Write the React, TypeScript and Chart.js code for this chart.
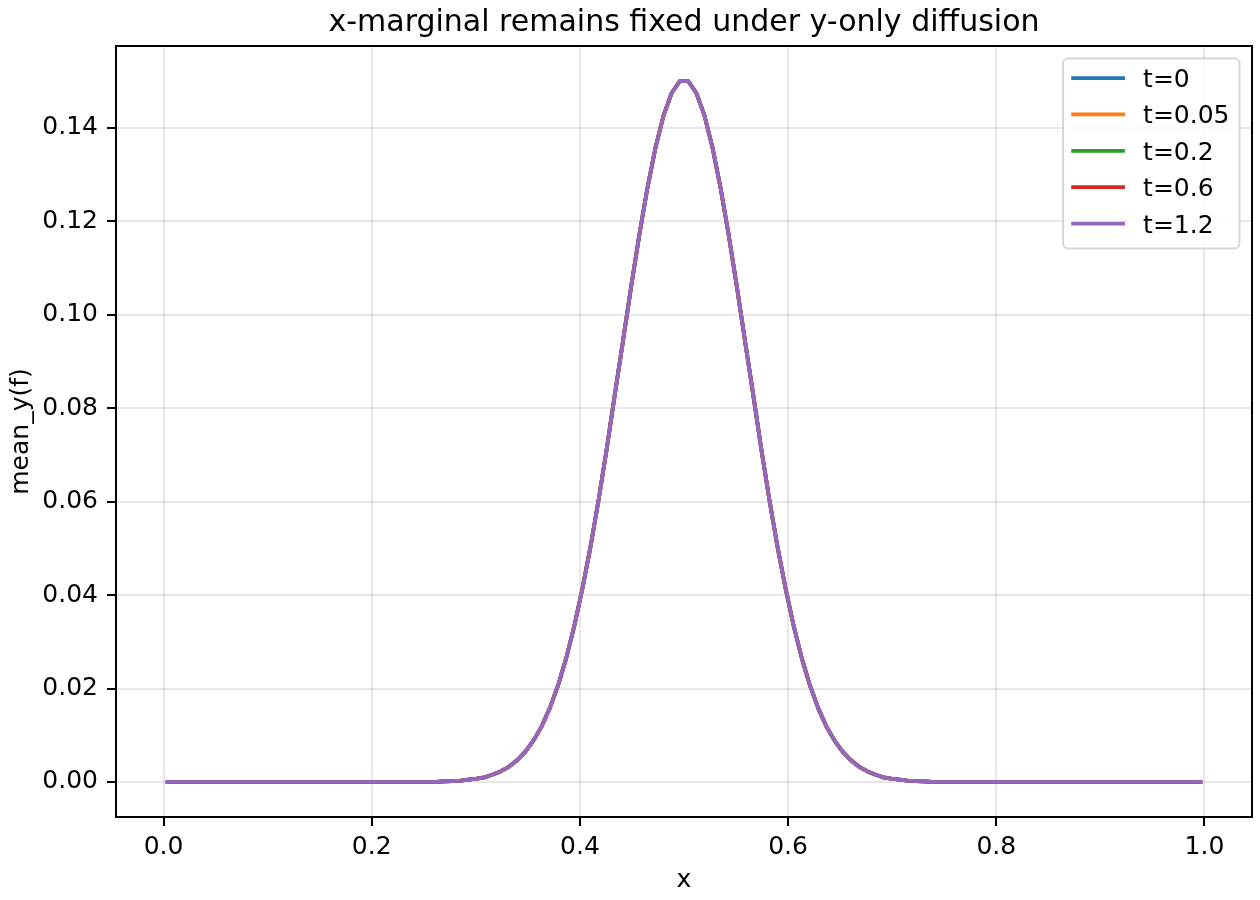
import React, { useEffect, useRef } from 'react';
import { Chart, registerables } from 'chart.js';

Chart.register(...registerables);

const chartTitle = 'x-marginal remains fixed under y-only diffusion';
const xAxisLabel = 'x';
const yAxisLabel = 'mean_y(f)';

const timeLabels = ['t=0', 't=0.05', 't=0.2', 't=0.6', 't=1.2'];
const lineColors = ['#1f77b4', '#ff7f0e', '#2ca02c', '#d62728', '#9467bd'];

// cell-centre x positions (flat tails trimmed to their end points)
const xGrid = [
  0.00391, 0.26172,
  0.26953, 0.27734, 0.28516, 0.29297, 0.30078, 0.30859, 0.31641, 0.32422, 0.33203, 0.33984,
  0.34766, 0.35547, 0.36328, 0.37109, 0.37891, 0.38672, 0.39453, 0.40234, 0.41016, 0.41797,
  0.42578, 0.43359, 0.44141, 0.44922, 0.45703, 0.46484, 0.47266, 0.48047, 0.48828, 0.49609,
  0.50391, 0.51172, 0.51953, 0.52734, 0.53516, 0.54297, 0.55078, 0.55859, 0.56641, 0.57422,
  0.58203, 0.58984, 0.59766, 0.60547, 0.61328, 0.62109, 0.62891, 0.63672, 0.64453, 0.65234,
  0.66016, 0.66797, 0.67578, 0.68359, 0.69141, 0.69922, 0.70703, 0.71484, 0.72266, 0.73047,
  0.73828, 0.99609,
];

// mean over y of f -- the same for every t (curves lie on top of each other)
const meanProfile = [
  0, 0,
  0.0001, 0.0002, 0.0003, 0.0005, 0.0007, 0.0010, 0.0016, 0.0023, 0.0033, 0.0047,
  0.0065, 0.0089, 0.0119, 0.0158, 0.0206, 0.0264, 0.0333, 0.0413, 0.0503, 0.0604,
  0.0713, 0.0830, 0.0944, 0.1060, 0.1170, 0.1271, 0.1358, 0.1427, 0.1475, 0.1500,
  0.1500, 0.1475, 0.1427, 0.1358, 0.1271, 0.1170, 0.1060, 0.0944, 0.0830, 0.0713,
  0.0604, 0.0503, 0.0413, 0.0333, 0.0264, 0.0206, 0.0158, 0.0119, 0.0089, 0.0065,
  0.0047, 0.0033, 0.0023, 0.0016, 0.0010, 0.0007, 0.0005, 0.0003, 0.0002, 0.0001,
  0, 0,
];

const xTicks = [0, 0.2, 0.4, 0.6, 0.8, 1.0];
const yTicks = [0, 0.02, 0.04, 0.06, 0.08, 0.1, 0.12, 0.14];

const FONT = '"DejaVu Sans", sans-serif';
const FS = 25;

// matplotlib-like 5% margins around the data
const xLo = Math.min(...xGrid), xHi = Math.max(...xGrid);
const yLo = Math.min(...meanProfile), yHi = Math.max(...meanProfile);
const xPad = (xHi - xLo) * 0.05, yPad = (yHi - yLo) * 0.05;

const framePlugin = {
  id: 'frame',
  afterDraw(chart: any) {
    const { ctx, chartArea: a } = chart;
    ctx.save();
    // spines
    ctx.strokeStyle = '#000';
    ctx.lineWidth = 2;
    ctx.strokeRect(a.left, a.top, a.right - a.left, a.bottom - a.top);

    // title
    ctx.fillStyle = '#000';
    ctx.font = `30px ${FONT}`;
    ctx.textAlign = 'center';
    ctx.textBaseline = 'alphabetic';
    ctx.fillText(chartTitle, (a.left + a.right) / 2, a.top - 15);

    // legend, upper right inside the axes
    ctx.font = `${FS}px ${FONT}`;
    const ds = chart.data.datasets;
    const maxW = Math.max(...ds.map((d: any) => ctx.measureText(d.label).width));
    const pad = 0.4 * FS, handle = 2 * FS, textPad = 0.8 * FS;
    const w = pad + handle + textPad + maxW + pad;
    const h = 190;
    const right = a.right - 0.5 * FS, top = a.top + 0.5 * FS;
    const left = right - w;
    ctx.beginPath();
    ctx.roundRect(left, top, w, h, 5);
    ctx.fillStyle = 'rgba(255,255,255,0.8)';
    ctx.fill();
    ctx.strokeStyle = 'rgba(204,204,204,0.8)';
    ctx.lineWidth = 2;
    ctx.stroke();
    ds.forEach((d: any, i: number) => {
      const cy = top + 19.5 + i * 36.4;
      ctx.beginPath();
      ctx.strokeStyle = d.borderColor;
      ctx.lineWidth = 3.75;
      ctx.lineCap = 'square';
      ctx.moveTo(left + pad, cy);
      ctx.lineTo(left + pad + handle, cy);
      ctx.stroke();
      ctx.fillStyle = '#000';
      ctx.textAlign = 'left';
      ctx.fillText(d.label, left + pad + handle + textPad, cy + 9);
    });
    ctx.restore();
  },
};

export default function App() {
  const ref = useRef<HTMLCanvasElement>(null);
  const chartRef = useRef<Chart | null>(null);

  useEffect(() => {
    document.body.style.margin = '0';
    if (!ref.current) return;
    const ctx = ref.current.getContext('2d'); if (!ctx) return;

    const datasets = timeLabels.map((label, i) => ({
      label,
      data: xGrid.map((x, k) => ({ x, y: meanProfile[k] })),
      borderColor: lineColors[i],
      backgroundColor: lineColors[i],
      borderWidth: 3.75,
      borderCapStyle: 'square' as const,
      borderJoinStyle: 'round' as const,
      pointRadius: 0,
      tension: 0,
      fill: false,
      order: timeLabels.length - 1 - i, // later t drawn on top
    }));

    const grid = {
      color: 'rgba(176,176,176,0.3)',
      lineWidth: 2,
      tickColor: '#000',
      tickWidth: 2,
      tickLength: 9,
    };

    chartRef.current?.destroy();
    chartRef.current = new Chart(ctx, {
      type: 'line',
      data: { datasets },
      options: {
        responsive: false,
        animation: false,
        devicePixelRatio: 1,
        events: [],
        layout: { padding: { top: 46, right: 8, left: 0, bottom: 0 } },
        plugins: { legend: { display: false }, title: { display: false }, tooltip: { enabled: false } },
        scales: {
          x: {
            type: 'linear',
            bounds: 'data',
            min: xLo - xPad,
            max: xHi + xPad,
            afterBuildTicks: (s: any) => { s.ticks = xTicks.map(v => ({ value: v })); },
            afterFit: (s: any) => { s.height = 83; },
            ticks: {
              callback: (v: any) => Number(v).toFixed(1),
              font: { family: FONT, size: FS },
              color: '#000',
              padding: 6,
              maxRotation: 0,
              autoSkip: false,
            },
            grid,
            border: { display: false },
            title: {
              display: true, text: xAxisLabel, color: '#000',
              font: { family: FONT, size: FS }, padding: { top: 0, bottom: 5 },
            },
          },
          y: {
            type: 'linear',
            bounds: 'data',
            min: yLo - yPad,
            max: yHi + yPad,
            afterBuildTicks: (s: any) => { s.ticks = yTicks.map(v => ({ value: v })); },
            afterFit: (s: any) => { s.width = 116; },
            ticks: {
              callback: (v: any) => Number(v).toFixed(2),
              font: { family: FONT, size: FS },
              color: '#000',
              padding: 9,
              autoSkip: false,
            },
            grid,
            border: { display: false },
            title: {
              display: true, text: yAxisLabel, color: '#000',
              font: { family: FONT, size: FS }, padding: { top: 6, bottom: 0 },
            },
          },
        },
      },
      plugins: [framePlugin],
    });

    return () => chartRef.current?.destroy();
  }, []);

  return <canvas ref={ref} width={1260} height={900} style={{ display: 'block' }}></canvas>;
}
